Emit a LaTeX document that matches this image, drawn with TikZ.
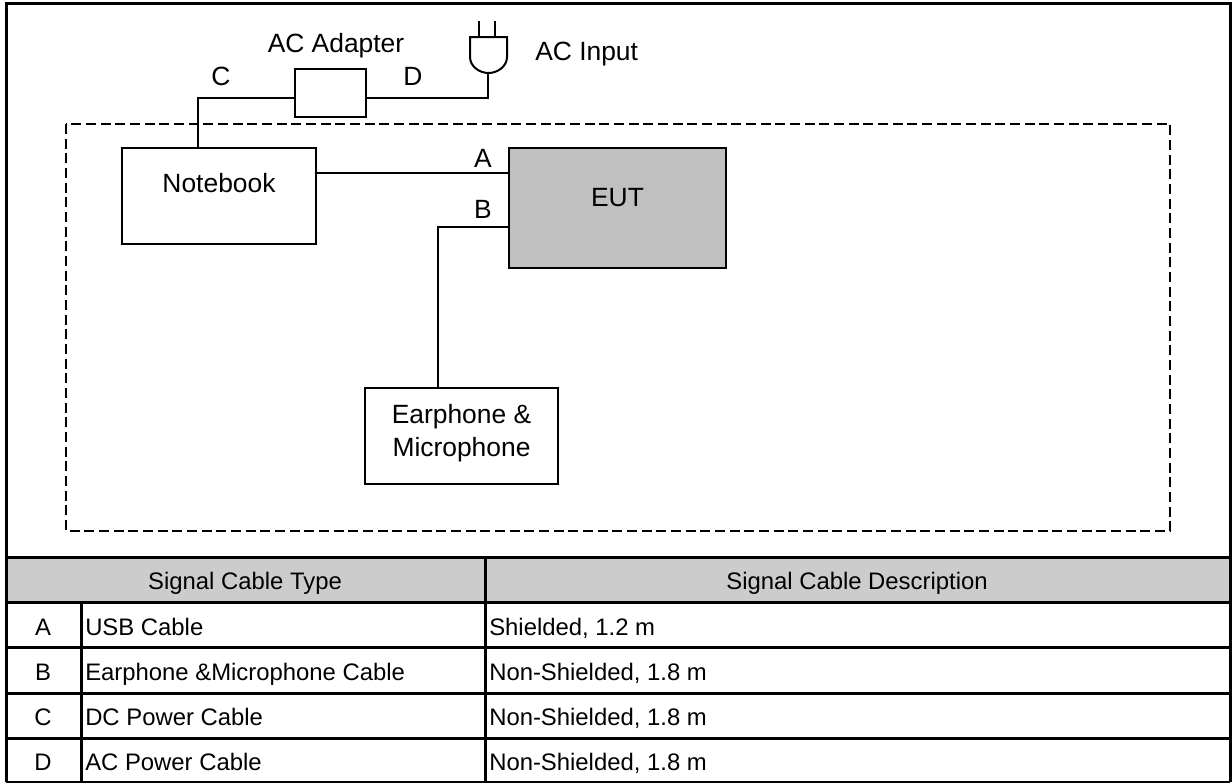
\documentclass[tikz,border=0pt]{standalone}
\usepackage{fontspec}
\setmainfont{Liberation Sans}
\definecolor{eutgrey}{HTML}{C0C0C0}
\definecolor{headgrey}{HTML}{CCCCCC}
\tikzset{
  wire/.style={line width=1.5pt,line join=miter},
  rule/.style={line width=2.25pt},
  frame/.style={line width=2.25pt},
  devbox/.style={draw=black,line width=1.5pt,fill=white,outer sep=0pt,inner sep=0pt},
  label/.style={inner sep=0pt,anchor=base,font=\fontsize{19.8pt}{21pt}\selectfont},
  cell/.style={inner sep=0pt,anchor=base,font=\fontsize{17.9pt}{20pt}\selectfont},
  lcell/.style={cell,anchor=base west}
}
\begin{document}
\begin{tikzpicture}[x=0.75pt,y=-0.75pt]
\useasboundingbox (0,0) rectangle (1232,783);
\fill[white] (0,0) rectangle (1232,783);
% table header
\fill[headgrey] (6,557) rectangle (1230,602);
% dashed zone
\draw[line width=1.5pt,dash pattern=on 7.5pt off 3.5pt] (66,124) rectangle (1170,531);
% devices
\coordinate (elbowC) at (198,98);
\coordinate (elbowB) at (438,227);
\coordinate (lineA) at (316,172.5);
\coordinate (plugfoot) at (487.5,73);
\coordinate (elbowD) at (487.5,98);
\node[devbox,minimum width=145.5pt,minimum height=72pt] (nb) at (219,196) {};
\node[devbox,minimum width=53.25pt,minimum height=36pt] (adapter) at (330.5,93) {};
\node[devbox,fill=eutgrey,minimum width=162.75pt,minimum height=90pt] (eut) at (617.5,208) {};
\node[devbox,minimum width=144.75pt,minimum height=72pt] (ear) at (461.5,436) {};
\node[label] (nbtext) at (219,192) {Notebook};
\node[label] (euttext) at (617.5,206) {EUT};
\node[label] (eartext1) at (461.5,423) {Earphone \&};
\node[label] (eartext2) at (461.5,456) {Microphone};
% connectors
\draw[wire] (elbowC |- nb.north) -- (elbowC) -- (elbowC -| adapter.west);
\draw[wire] (elbowD -| adapter.east) -- (elbowD) -- (plugfoot);
\draw[wire] (lineA) -- (lineA -| eut.west);
\draw[wire] (elbowB -| eut.west) -- (elbowB) -- (elbowB |- ear.north);
% plug
\draw[wire] (470,37) -- (507,37) -- (507,57) .. controls (507,66) and (498,73) .. (488.5,73) .. controls (479,73) and (470,66) .. (470,57) -- cycle;
\draw[wire] (478.5,37) -- (478.5,21);
\draw[wire] (494.5,37) -- (494.5,21);
% labels
\node[label] (lacad) at (336,52.5) {AC Adapter};
\node[label,anchor=base west] (lacin) at (535,60) {AC Input};
\node[label] (lC) at (221,85.5) {C};
\node[label] (lD) at (413,85.5) {D};
\node[label] (lA) at (483,167.5) {A};
\node[label] (lB) at (483,218) {B};
% table rules
\draw[rule] (6,557) -- (1230,557);
\draw[rule] (6,602) -- (1230,602);
\draw[rule] (6,647) -- (1230,647);
\draw[rule] (6,693) -- (1230,693);
\draw[rule] (6,738) -- (1230,738);
\draw[rule] (485,557) -- (485,782);
\draw[rule] (81,602) -- (81,782);
% frame
\draw[line width=1.2pt] (6,782) -- (1230,782);
\draw[frame] (6,782) -- (6,3) -- (1230,3) -- (1230,782);
% table text
\node[cell] (h1) at (245,589) {Signal Cable Type};
\node[cell] (h2) at (857,589) {Signal Cable Description};
\node[cell] (ra) at (43,635) {A};
\node[cell] (rb) at (43,680) {B};
\node[cell] (rc) at (43,725) {C};
\node[cell] (rd) at (43,770) {D};
\node[lcell] (ta) at (85,635) {USB Cable};
\node[lcell] (tb) at (85,680) {Earphone \&Microphone Cable};
\node[lcell] (tc) at (85,725) {DC Power Cable};
\node[lcell] (td) at (85,770) {AC Power Cable};
\node[lcell] (da) at (489,635) {Shielded, 1.2 m};
\node[lcell] (db) at (489,680) {Non-Shielded, 1.8 m};
\node[lcell] (dc) at (489,725) {Non-Shielded, 1.8 m};
\node[lcell] (dd) at (489,770) {Non-Shielded, 1.8 m};
\end{tikzpicture}
\end{document}
